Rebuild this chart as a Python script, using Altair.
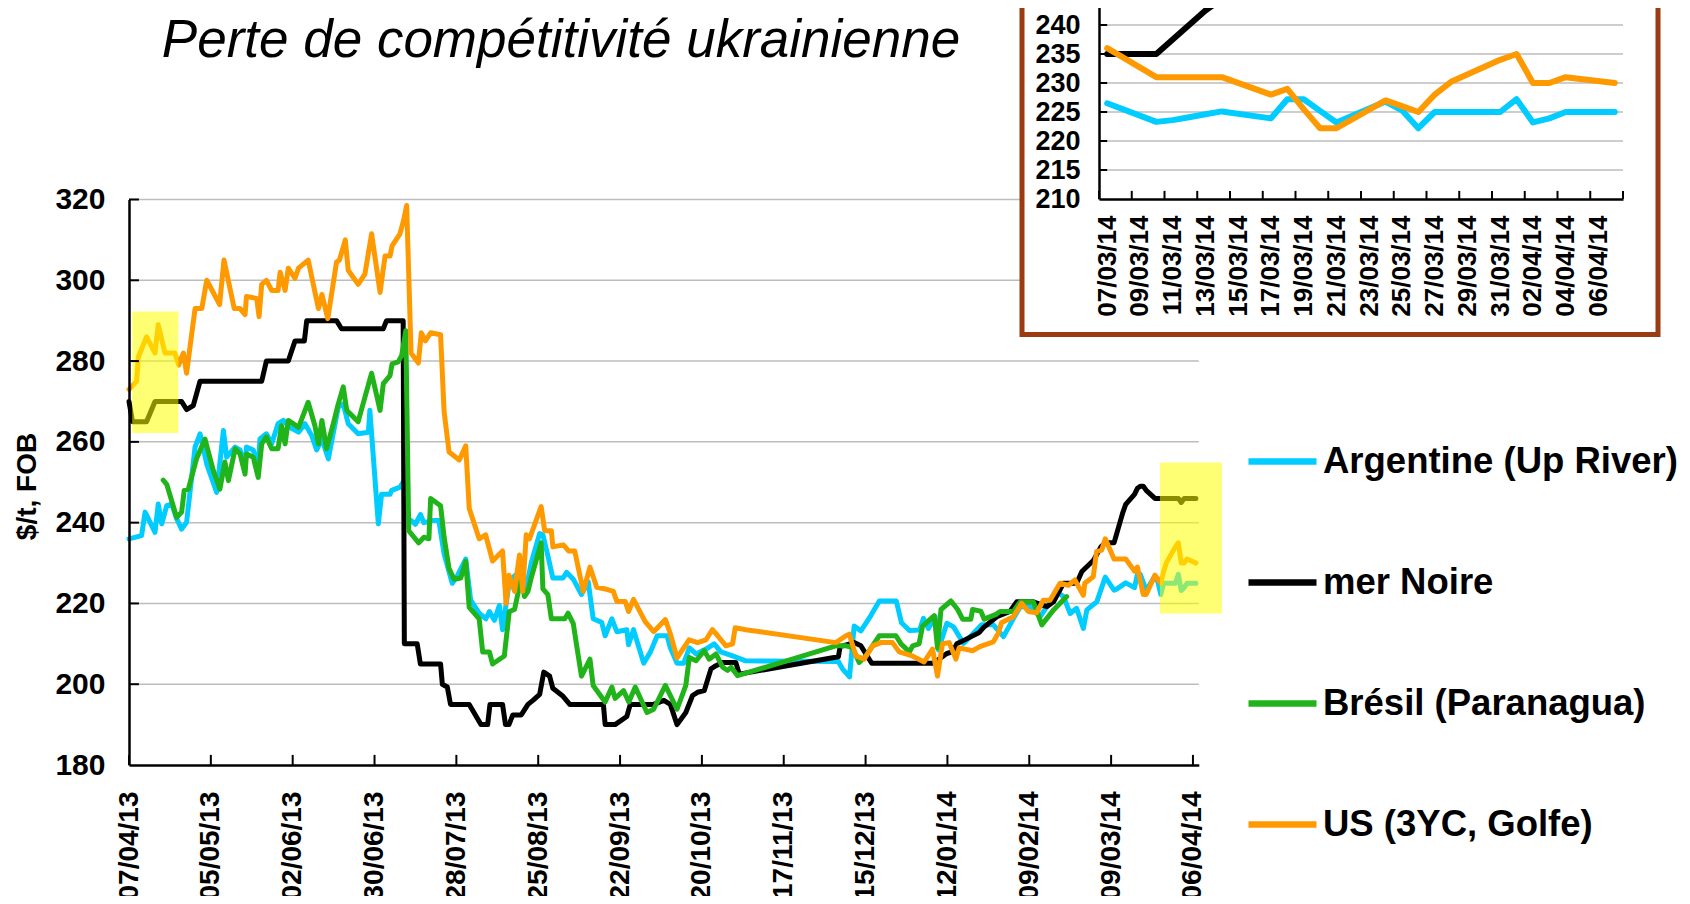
import altair as alt
import pandas as pd

FONT = "Liberation Sans"
TITLE = "Perte de compétitivité ukrainienne"
Y_TITLE = "$/t, FOB"
SERIES = ["Argentine (Up River)", "mer Noire", "Brésil (Paranagua)", "US (3YC, Golfe)"]
COLORS = ["#00CCFF", "#000000", "#21B41A", "#FF9900"]
START = "2013-04-07"

# (day offset from 07/04/13, $/t)
ARG = [(0,236),(4.3,236.8),(5.5,242.6),(8.9,237.6),(10,244.6),(11.2,239.7),(12.9,244.2),(14.6,244.6),(16.3,241),(18,238.4),(19.7,240.1),(22.6,258.7),(24.3,262),(26.6,254.5),(30,247.5),(32.3,262.8),(33.4,256.2),(36.3,258.7),(38,258),(39.7,253.7),(40.2,258.7),(42.5,258),(44.2,253.7),(44.8,260.7),(47,262),(48.8,259.5),(51,264.5),(52.8,265.3),(55,263.6),(58,262.4),(60.2,264.5),(62.5,261.6),(64.2,258),(66,260.7),(68.2,255.8),(71.6,268.6),(73.3,269.4),(75,264.5),(78.4,262),(81.9,262.4),(82.4,267.8),(85.3,239.7),(86.4,247),(89.3,247),(89.9,248),(92.7,248.8),(93.8,250),(95.7,241),(98,239.6),(99.7,242),(100.9,240),(103.7,240.5),(106,240.5),(107.8,232.3),(110.6,225),(112.3,226.8),(115.2,231),(116.9,220.8),(119.8,217.6),(122.1,216.2),(123.3,218),(125,215.8),(126.7,219.5),(127.8,213.5),(130.1,225.4),(131.9,226.8),(134.2,228.2),(135.9,223.6),(137.6,230),(140.5,237.3),(141.6,237),(143.3,231.8),(145,226.3),(148.5,226.3),(149.7,227.7),(152,226),(154.8,222.2),(157.1,225.4),(158.8,216.2),(161.7,215.3),(162.9,212),(165.2,216.2),(166.9,213),(170.3,213.5),(170.9,209.8),(172.6,213.5),(176.1,205.2),(178.4,208),(180.7,212),(184.1,212),(185.2,209),(187.5,205.2),(189.8,205.2),(191.7,209),(194,207.5),(197.4,208.7),(200.2,210),(202.5,208),(206.5,207),(211,205.8),(242.7,205.6),(244.1,203.8),(246.5,201.8),(248.1,214.4),(250.4,213.2),(253.8,217),(256.7,220.6),(262.5,220.6),(264.3,215.2),(267,213.3),(270.5,213.4),(271.8,216.3),(273.5,213.8),(275.8,216.7),(276.9,208.5),(279.8,215.1),(282.1,214.2),(285.5,210.1),(288.9,212.6),(291.7,214.7),(295.7,214.7),(299.2,211.8),(302.6,216.3),(304.9,219.2),(308.3,219.2),(311.7,216.7),(314,219.2),(317.4,222.9),(319.7,221.7),(322,217.5),(324.2,218.8),(326.5,213.8),(327.7,218.4),(331.1,220.4)]
NOIRE = [(0,270),(1.2,265),(6,265),(8.9,270),(18,270),(19.7,268),(22,269),(24.3,275),(45.4,275),(47,280),(54.5,280),(56.8,285),(60,285),(60.8,290),(71,290),(72.7,288),(87,288),(88.1,290),(93.8,290),(94.2,210),(98.6,210),(99.7,205),(106.6,205),(107.2,200),(108.9,199.3),(110,195),(116.4,195),(120.4,190),(122.7,190),(123.5,195),(127.8,195),(128.8,190),(130,190),(131.3,192.4),(134.2,192.4),(136.5,195),(138.2,196),(140.5,197.5),(141.9,203),(143.9,202),(145,199),(148.5,197),(150.8,195),(162.3,195),(162.9,190),(166.3,190),(170.3,192),(171.5,195),(179.5,195),(183,196),(185.2,195),(187.5,190),(190.5,193),(192.8,197.2),(194.5,198),(196.8,198.4),(199.1,203.8),(200.8,204.6),(203.1,205.4),(207.6,205.4),(208.8,202.5),(242.7,206.8),(243.3,209.3),(248.1,210.3),(250.4,209.5),(254.1,205.2),(275.2,205.2),(279.8,207.6),(281.7,208),(283.2,210),(286.3,211.1),(290.9,212.8),(292.3,214),(296.9,216.7),(301.4,218),(303.7,220.4),(309.4,220.4),(314,219.2),(316.3,220.4),(319.7,225),(324.2,225),(326,227.9),(330,230.7),(332.5,234)]
BRESIL = [(11.7,250.5),(12.9,249.5),(16.3,241.3),(18,242.6),(18.9,248),(20.3,248.3),(23.1,255.8),(26,260.7),(28.8,253),(31.1,248.3),(32.8,255),(34,250.4),(36.3,258.3),(38,257),(39.7,252),(40.2,257),(42.5,256.2),(44.2,251.2),(45.4,259.5),(47,261.2),(48.8,258.3),(51,258.3),(52.2,264),(53.4,259.5),(54.5,265.3),(58,263.6),(61.3,269.8),(63.6,264),(64.8,259.5),(66,265.3),(67.6,258.3),(69.9,264.5),(71.6,269.4),(73.3,273.6),(74.5,267.8),(78.4,265),(83,277),(85.9,267.8),(87,274.4),(89.3,276.4),(90,279.3),(92.1,279.8),(93.3,281.4),(94.7,287.5),(95.7,238),(99.1,235),(100.9,236.4),(102.6,236),(103.2,246),(106.6,244.2),(107.8,236.4),(109.5,228.6),(111.2,226),(113.5,226.3),(115.2,230.4),(116.4,219),(119.8,216.2),(121,208),(123.3,208),(124.4,205),(128.4,207),(130.1,218),(131.9,218.5),(134.2,226.3),(135.3,221.7),(136.5,223),(137.6,226.3),(141,235),(141.6,223.6),(143.3,222.2),(144.5,216.2),(149.1,216.2),(150.2,217.6),(152,215),(153.1,209.8),(154.8,202),(157.7,206.2),(158.8,199.7),(162.9,195.6),(165.2,199.3),(166.3,196.5),(169.2,198.4),(171,195.6),(173.2,199.3),(177.2,193),(179.5,193.8),(183.5,199.7),(187.5,193.8),(190.5,199.7),(191.7,206.6),(194,205.8),(196.8,208.3),(198.5,206.2),(200.8,207.5),(203.1,204.2),(204.8,203.4),(206,204.2),(208.2,202.1),(241.8,209.5),(245.3,209.5),(247.5,209.1),(249.8,205.4),(252.1,207),(256.7,212),(262.4,212),(264.1,210),(267,208),(268.1,209.5),(270.3,210),(271.5,214.4),(275.5,217),(276.6,209),(277.8,218.5),(281.2,220.6),(283.5,218.5),(285.2,216.1),(288,216.1),(288.6,218.5),(291.4,218.1),(292.6,216.1),(296.6,217.3),(298,218),(302.6,218),(304.9,220.4),(309.4,220.4),(312.3,214.7),(316.3,218.4),(320.8,221.7)]
US = [(0,273),(2.6,275),(3.2,281),(6,286),(8.9,282),(10,289),(12.3,282),(15.7,282),(17,279),(18.6,282),(19.7,277),(22.6,293),(24.9,293),(26.6,300),(31,294),(32.5,305),(36,293),(38,293),(39.7,291.5),(40.2,296),(43.7,295.5),(44.5,291),(45.4,299),(47,300),(48.8,297.5),(51,297.5),(51.7,302),(53.4,297.5),(54.5,303),(56.8,300.5),(58,303),(61.3,305),(64.8,293),(66,296.5),(68,290.5),(71,304.5),(72,305),(74,310),(75,302.5),(78.4,299),(80.7,301.5),(83,311.5),(85.9,297),(87.6,306),(89.3,306),(90,308.5),(92.7,311.5),(94,315),(95,318.5),(96.5,282),(99,279.5),(100,287),(101.4,285),(103.2,287),(106.6,286.5),(107.8,267.5),(109.5,257.5),(113,255.5),(115.2,259),(116.4,243.5),(119.8,236),(122,237),(124.4,230.5),(127.8,233),(129,220),(130,227),(131.9,223),(133.6,232),(134.7,223),(135.9,237),(137,236),(141,244),(142.2,238),(144.5,238),(145,234),(148.6,234.5),(150.4,233),(152.5,233),(155.4,223),(157.7,229),(160,224),(163.4,223.5),(165.7,223),(166.9,220.5),(169.8,220.5),(170.9,218),(172.6,221),(176.6,215.5),(179.5,213),(183.5,216),(185.2,212.5),(187.5,206.5),(191.6,211),(194.5,210.3),(197.4,211),(199.6,213.5),(201.4,212),(204.2,209.5),(206.5,210),(207.4,214),(211,213.5),(241.8,210.3),(245.3,212),(246.4,212.4),(248.7,207),(251.5,206.2),(254.4,209.5),(257.2,210.3),(261.2,210.3),(263.5,208),(268,207),(272,205.5),(274.9,208.7),(276.6,202),(278.3,210),(280.6,210.3),(282.9,206.2),(284,209),(288.6,208.3),(291.1,209.3),(295.7,210.5),(297.4,212.6),(298.5,215.2),(302.5,216.7),(305.4,220),(307.7,218),(310.5,217.7),(312.8,220.8),(315.1,220.8),(318.5,225),(321.4,224.5),(323.6,225.8),(326.5,222),(327,225),(329.9,226.6),(331,232.8),(332.8,233.2)]

# last month (07/03/14 - 07/04/14)
END_DAYS = [334,337,338,339,340,341,344,345,346,347,348,351,352,353,354,355,358,359,360,361,362,365]
ARG_END = [226.5,223.3,223.6,224.1,224.6,225.1,223.9,227.2,227.2,225.2,223.2,226.8,225.3,222.2,225,225,225,227.2,223.2,223.9,225,225]
NOIRE_END = [235,235,237.5,240,242.5,244.5,247,248.5,249,249,248,246,246,246,246,246,246,246,245,246,246,246]
US_END = [236,231,231,231,231,231,228,229,225.5,222.2,222.2,227,226,225,228,230.2,234,235,230,230,231,230]

MAIN_TICKS = ["2013-04-07","2013-05-05","2013-06-02","2013-06-30","2013-07-28","2013-08-25","2013-09-22",
              "2013-10-20","2013-11-17","2013-12-15","2014-01-12","2014-02-09","2014-03-09","2014-04-06"]
MAIN_Y_TICKS = [180,200,220,240,260,280,300,320]
INSET_TICKS = ["2014-03-07","2014-03-09","2014-03-11","2014-03-13","2014-03-15","2014-03-17","2014-03-19","2014-03-21",
               "2014-03-23","2014-03-25","2014-03-27","2014-03-29","2014-03-31","2014-04-02","2014-04-04","2014-04-06"]
INSET_Y_TICKS = [210,215,220,225,230,235,240,245]

# yellow highlight boxes (day offsets, $/t)
HL_X0 = [1.1, 352.7]
HL_X1 = [16.9, 373.9]
HL_Y0 = [262.2, 217.5]
HL_Y1 = [292.3, 254.9]

start = pd.Timestamp(START)
def day(d):
    return start + pd.to_timedelta(d, unit="D")

rows = []
for name, pts, end in zip(SERIES, [ARG, NOIRE, BRESIL, US], [ARG_END, NOIRE_END, None, US_END]):
    for d, v in pts:
        rows.append({"series": name, "date": day(d), "value": v})
    if end:
        for d, v in zip(END_DAYS, end):
            rows.append({"series": name, "date": day(d), "value": v})
df = pd.DataFrame(rows)
inset_df = df[df["date"] >= pd.Timestamp("2014-03-07")]

def dt(s, hours=0):
    t = pd.Timestamp(s)
    return alt.DateTime(year=t.year, month=t.month, date=t.day, hours=hours)

W, H = 1674, 888
MX = alt.Scale(domain=[dt("2013-04-07"), dt("2014-04-08")], range=[121, 1190.8], nice=False)
MY = alt.Scale(domain=[180, 320], range=[757, 191.5], nice=False, zero=False)
IX = alt.Scale(domain=[dt("2014-03-06", 12), dt("2014-04-07", 12)], range=[1091, 1615], nice=False)
IY = alt.Scale(domain=[210, 250], range=[191, -41], nice=False, zero=False)
CS = alt.Scale(domain=SERIES, range=COLORS)

common = dict(labelFont=FONT, labelFontWeight="bold", labelColor="black", ticks=False, tickSize=0,
              domainColor="black", domainWidth=2.5, grid=False, zindex=1, labelOverlap=False)
MXA = alt.Axis(orient="bottom", offset=757 - H, values=[dt(s) for s in MAIN_TICKS], format="%d/%m/%y",
               labelAngle=270, labelFontSize=28, labelPadding=26, labelFlush=False, title=None, **common)
MYA = alt.Axis(orient="left", offset=-121, values=MAIN_Y_TICKS, labelFontSize=30, labelPadding=24,
               title=Y_TITLE, titleFont=FONT, titleFontSize=28, titleFontWeight="bold", titleColor="black",
               titleAngle=270, titleX=-102, titleY=478, titleAlign="center", titleBaseline="middle", **common)
IXA = alt.Axis(orient="bottom", offset=191 - H, values=[dt(s) for s in INSET_TICKS], format="%d/%m/%y",
               labelAngle=270, labelFontSize=26, labelPadding=16, labelFlush=False, title=None, **common)
IYA = alt.Axis(orient="left", offset=-1091, values=INSET_Y_TICKS, labelFontSize=27, labelPadding=19,
               title=None, **common)

LEG = alt.Legend(orient="none", legendX=1237, legendY=416, direction="vertical", title=None,
                 symbolType="stroke", symbolSize=4624, symbolStrokeWidth=6.5,
                 labelFont=FONT, labelFontSize=36.5, labelFontWeight="bold", labelColor="black",
                 labelLimit=700, labelOffset=3, rowPadding=65, padding=0)

def mx(f): return alt.X(f, scale=MX, axis=MXA)
def my(f): return alt.Y(f, scale=MY, axis=MYA)
def ix(f): return alt.X(f, scale=IX, axis=IXA)
def iy(f): return alt.Y(f, scale=IY, axis=IYA)

# ---- main chart ----
grid_main = alt.Chart(pd.DataFrame({"v": MAIN_Y_TICKS[1:], "x0": day(0), "x1": pd.Timestamp("2014-04-08")})).mark_rule(
    color="#BDBDBD", strokeWidth=1.5).encode(x=mx("x0:T"), x2="x1", y=my("v:Q"))
main_lines = [
    alt.Chart(df[df["series"] == s]).mark_line(strokeWidth=5, strokeJoin="round", strokeCap="round").encode(
        x=mx("date:T"), y=my("value:Q"), color=alt.Color("series:N", scale=CS, legend=LEG))
    for s in SERIES
]
hl = alt.Chart(pd.DataFrame({"x0": [day(d) for d in HL_X0], "x1": [day(d) for d in HL_X1],
                             "y0": HL_Y0, "y1": HL_Y1})).mark_rect(color="#FFFF00", opacity=0.55).encode(
    x=mx("x0:T"), x2="x1", y=my("y0:Q"), y2="y1")
tick_mx = alt.Chart(pd.DataFrame({"d": pd.to_datetime(MAIN_TICKS), "y0": 180, "y1": 182.5})).mark_rule(
    color="black", strokeWidth=2).encode(x=mx("d:T"), y=my("y0:Q"), y2="y1")
tick_my = alt.Chart(pd.DataFrame({"v": MAIN_Y_TICKS[1:], "x0": day(0), "x1": day(3.4)})).mark_rule(
    color="black", strokeWidth=2).encode(x=mx("x0:T"), x2="x1", y=my("v:Q"))
title_txt = alt.Chart(pd.DataFrame({"t": [TITLE]})).mark_text(
    font=FONT, fontStyle="italic", fontSize=53, color="black", align="center", baseline="alphabetic").encode(
    x=alt.value(553), y=alt.value(49), text="t:N")
main = alt.layer(grid_main, *main_lines, hl, tick_mx, tick_my, title_txt)

# ---- inset ----
box = alt.Chart(pd.DataFrame({"a": [0]})).mark_rect(fill="white", stroke="#9A3B11", strokeWidth=5).encode(
    x=alt.value(1014), x2=alt.value(1650), y=alt.value(-20), y2=alt.value(326.5))
grid_in = alt.Chart(pd.DataFrame({"v": INSET_Y_TICKS[1:], "x0": pd.Timestamp("2014-03-06 12:00"),
                                  "x1": pd.Timestamp("2014-04-07 12:00")})).mark_rule(
    color="#BDBDBD", strokeWidth=1.5).encode(x=ix("x0:T"), x2="x1", y=iy("v:Q"))
inset_lines = [
    alt.Chart(inset_df[inset_df["series"] == s]).mark_line(strokeWidth=6, strokeJoin="round", strokeCap="round").encode(
        x=ix("date:T"), y=iy("value:Q"), color=alt.Color("series:N", scale=CS, legend=None))
    for s in [SERIES[0], SERIES[1], SERIES[3]]
]
bounds = [pd.Timestamp(s) - pd.Timedelta(hours=12) for s in INSET_TICKS] + [pd.Timestamp("2014-04-07 12:00")]
tick_ix = alt.Chart(pd.DataFrame({"d": bounds, "y0": 210, "y1": 211.4})).mark_rule(
    color="black", strokeWidth=2).encode(x=ix("d:T"), y=iy("y0:Q"), y2="y1")
tick_iy = alt.Chart(pd.DataFrame({"v": INSET_Y_TICKS[1:], "x0": pd.Timestamp("2014-03-06 12:00"),
                                  "x1": pd.Timestamp("2014-03-07 00:00")})).mark_rule(
    color="black", strokeWidth=2).encode(x=ix("x0:T"), x2="x1", y=iy("v:Q"))
inset = alt.layer(box, grid_in, *inset_lines, tick_ix, tick_iy)

chart = alt.layer(main, inset).resolve_scale(
    x="independent", y="independent", color="independent"
).properties(
    width=W, height=H, autosize=alt.AutoSizeParams(type="none"), padding=0, background="white"
).configure_view(strokeWidth=0)

chart.save("out.html", embed_options={"renderer": "svg", "actions": False})
